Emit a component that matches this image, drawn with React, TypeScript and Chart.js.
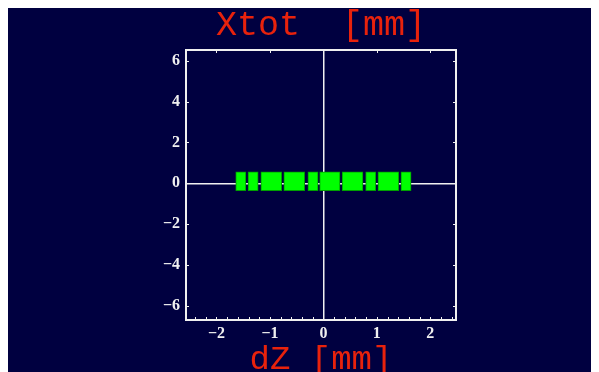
import React, { useEffect, useRef } from "react";
import { Chart, registerables } from "chart.js";

Chart.register(...registerables);

// ---- data ----
const BOX_RANGES: [number, number][] = [
  [-1.64, -1.45],
  [-1.41, -1.22],
  [-1.17, -0.78],
  [-0.74, -0.35],
  [-0.29, -0.1],
  [-0.07, 0.31],
  [0.35, 0.74],
  [0.79, 0.98],
  [1.02, 1.41],
  [1.45, 1.64],
];
const BOX_Y = 0.1;
const X_TICKS = [-2, -1, 0, 1, 2];
const Y_TICKS = [-6, -4, -2, 0, 2, 4, 6];
const X_TOP_TICKS = [-2, -1, 0, 1, 2];
const X_MINOR_TICKS = [
  -2.4, -2.2, -2.0, -1.8, -1.6, -1.4, -1.2, -1.0, -0.8, -0.6, -0.4, -0.2, 0,
  0.2, 0.4, 0.6, 0.8, 1.0, 1.2, 1.4, 1.6, 1.8, 2.0, 2.2, 2.4,
];
const X_MIN = -2.57;
const X_MAX = 2.48;
const Y_MIN = -6.7;
const Y_MAX = 6.53;
const TITLE_TOP = "Xtot  [mm]";
const TITLE_BOTTOM = "dZ [mm]";

const BG = "#000040";
const FG = "#f0f0f0";
const RED = "#e8220c";

const fmt = (v: number | string) => {
  const n = Number(v);
  return n < 0 ? "\u2212" + Math.abs(n) : String(n);
};

const tickMarks = {
  id: "tickMarks",
  afterDatasetsDraw(chart: any) {
    const { ctx, chartArea, scales } = chart;
    const xs = scales.x;
    const ys = scales.y;
    ctx.save();
    ctx.strokeStyle = FG;
    ctx.lineWidth = 1;
    ctx.beginPath();
    for (const v of Y_TICKS) {
      const py = Math.round(ys.getPixelForValue(v)) + 0.5;
      ctx.moveTo(chartArea.left, py);
      ctx.lineTo(chartArea.left + 3, py);
      ctx.moveTo(chartArea.right, py);
      ctx.lineTo(chartArea.right - 3, py);
    }
    for (const v of X_TOP_TICKS) {
      const px = Math.round(xs.getPixelForValue(v)) + 0.5;
      ctx.moveTo(px, chartArea.top);
      ctx.lineTo(px, chartArea.top + 3);
    }
    for (const v of X_MINOR_TICKS) {
      const px = Math.round(xs.getPixelForValue(v)) + 0.5;
      ctx.moveTo(px, chartArea.bottom);
      ctx.lineTo(px, chartArea.bottom - 3);
    }
    ctx.stroke();
    ctx.restore();
  },
};

export default function App() {
  const ref = useRef<HTMLCanvasElement | null>(null);

  useEffect(() => {
    document.documentElement.style.overflow = "hidden";
    document.body.style.overflow = "hidden";
    const canvas = ref.current!;
    const zeroColor = (c: any) => (c.tick && c.tick.value === 0 ? FG : "rgba(0,0,0,0)");
    const chart = new Chart(canvas, {
      type: "bar",
      data: {
        datasets: [
          {
            data: BOX_RANGES.map(([a, b]) => ({ x: [a, b], y: BOX_Y })) as any,
            backgroundColor: "#00ff00",
            borderColor: "#00a000",
            borderWidth: 1,
            borderSkipped: false,
            barThickness: 19,
            grouped: false,
          } as any,
        ],
      },
      options: {
        indexAxis: "y",
        animation: false,
        responsive: false,
        layout: { padding: 0 },
        plugins: {
          legend: { display: false },
          tooltip: { enabled: false },
          title: { display: false },
        },
        scales: {
          x: {
            type: "linear",
            position: "bottom",
            min: X_MIN,
            max: X_MAX,
            offset: false,
            afterBuildTicks: (s: any) => {
              s.ticks = X_TICKS.map((v) => ({ value: v }));
            },
            afterFit: (s: any) => {
              s.height = 58;
            },
            grid: { color: zeroColor, lineWidth: 1.5, drawTicks: false, offset: false },
            border: { display: true, color: FG, width: 2 },
            ticks: {
              color: FG,
              padding: 4,
              font: { family: "'Liberation Serif', serif", size: 16, weight: "bold" },
              callback: (v: any) => fmt(v),
            },
            title: {
              display: true,
              text: TITLE_BOTTOM,
              color: RED,
              font: { family: "'Liberation Mono', monospace", size: 34, lineHeight: 1 },
              padding: { top: 0, bottom: 1 },
            },
          },
          x2: {
            type: "linear",
            position: "top",
            min: X_MIN,
            max: X_MAX,
            afterFit: (s: any) => {
              s.height = 42;
            },
            grid: { display: false, drawTicks: false },
            border: { display: true, color: FG, width: 2 },
            ticks: { display: false },
            title: {
              display: true,
              text: TITLE_TOP,
              color: RED,
              font: { family: "'Liberation Mono', monospace", size: 35, lineHeight: 0.9 },
              padding: { top: 2, bottom: 0 },
            },
          },
          y: {
            type: "linear",
            position: "left",
            min: Y_MIN,
            max: Y_MAX,
            offset: false,
            afterBuildTicks: (s: any) => {
              s.ticks = Y_TICKS.map((v) => ({ value: v }));
            },
            afterFit: (s: any) => {
              s.width = 178;
            },
            grid: { color: zeroColor, lineWidth: 1.5, drawTicks: false, offset: false },
            border: { display: true, color: FG, width: 2 },
            ticks: {
              color: FG,
              padding: 6,
              font: { family: "'Liberation Serif', serif", size: 16, weight: "bold" },
              callback: (v: any) => fmt(v),
            },
          },
          y2: {
            type: "linear",
            position: "right",
            min: Y_MIN,
            max: Y_MAX,
            afterFit: (s: any) => {
              s.width = 143;
            },
            grid: { display: false, drawTicks: false },
            border: { display: true, color: FG, width: 2 },
            ticks: { display: false },
          },
        },
      } as any,
      plugins: [tickMarks],
    });
    return () => chart.destroy();
  }, []);

  return (
    <div style={{ width: 591, height: 370, background: BG }}>
      <canvas ref={ref} width={591} height={370} style={{ display: "block", background: BG }} />
    </div>
  );
}
